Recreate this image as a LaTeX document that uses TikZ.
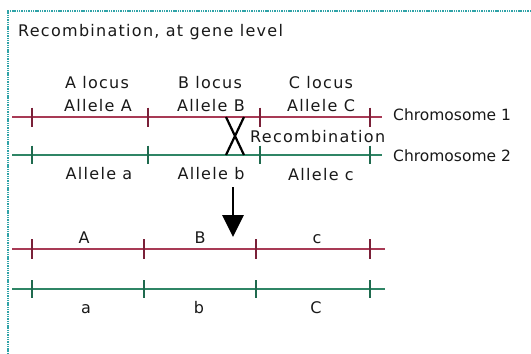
\documentclass[tikz,border=0pt]{standalone}
\usepackage{fontspec}
\setmainfont{DejaVu Sans}
\newfontfamily\lblfont[LetterSpace=8]{DejaVu Sans}
\newfontfamily\chrfont[LetterSpace=0]{DejaVu Sans}
\usetikzlibrary{arrows.meta}
\definecolor{redchr}{HTML}{A83A55}
\definecolor{redtick}{HTML}{7A2038}
\definecolor{greenchr}{HTML}{2F8565}
\definecolor{greentick}{HTML}{1F6A4E}
\definecolor{frame}{HTML}{2FA3A8}
\begin{document}
\begin{tikzpicture}[x=1pt,y=-1pt,
  lbl/.style={font=\lblfont\fontsize{16}{18}\selectfont,inner sep=0pt,anchor=base,text=black!90},
  chrlbl/.style={font=\chrfont\fontsize{15.5}{18}\selectfont,inner sep=0pt,anchor=base west,text=black!90},
  redline/.style={draw=redchr,line width=2pt},
  greenline/.style={draw=greenchr,line width=2pt},
  redtk/.style={draw=redtick,line width=1.8pt},
  greentk/.style={draw=greentick,line width=1.8pt},
  crossline/.style={draw=black,line width=2.2pt},
  framestyle/.style={draw=frame,line width=2.6pt,dash pattern=on 1.4pt off 0.9pt}]
\useasboundingbox (0,0) rectangle (531,354);
\fill[white] (0,0) rectangle (531,354);
% frame
\coordinate (fTL) at (8,11);
\coordinate (fTR) at (531,11);
\coordinate (fBL) at (8,354);
\draw[framestyle] (fTR) -- (fTL) -- (fBL);
% title
\node[lbl,anchor=base west] (title) at (18,36) {Recombination, at gene level};
% upper chromosomes
\coordinate (c1s) at (12,117); \coordinate (c1e) at (382,117);
\coordinate (c2s) at (12,155); \coordinate (c2e) at (382,155);
\draw[redline] (c1s) -- (c1e);
\draw[greenline] (c2s) -- (c2e);
\foreach \x [count=\i] in {32,148,260,370}{
  \coordinate (u1t\i) at (\x,117);
  \coordinate (u2t\i) at (\x,155);
  \draw[redtk] ([yshift=9.5pt]u1t\i) -- ([yshift=-9.5pt]u1t\i);
  \draw[greentk] ([yshift=9.5pt]u2t\i) -- ([yshift=-9pt]u2t\i);
}
% crossover
\coordinate (xa) at (226,117); \coordinate (xb) at (244,155);
\coordinate (xc) at (244,117); \coordinate (xd) at (226,155);
\draw[crossline] (xa) -- (xb);
\draw[crossline] (xc) -- (xd);
% upper labels
\node[lbl] (Aloc) at (97,88) {A locus};
\node[lbl] (AllA) at (98,111) {Allele A};
\node[lbl] (Bloc) at (210,88) {B locus};
\node[lbl] (AllB) at (211,111) {Allele B};
\node[lbl] (Cloc) at (321,88) {C locus};
\node[lbl] (AllC) at (321,111) {Allele C};
\node[lbl] (Alla) at (99,179) {Allele a};
\node[lbl] (Allb) at (211,179) {Allele b};
\node[lbl] (Allc) at (321,180) {Allele c};
\node[lbl,anchor=base west] (recomb) at (250,142) {Recombination};
\node[chrlbl] (chr1) at (393,120) {Chromosome 1};
\node[chrlbl] (chr2) at (393,161) {Chromosome 2};
% arrow
\coordinate (arrS) at (233,187); \coordinate (arrE) at (233,237);
\draw[line width=2.8pt,-{Triangle[width=21pt,length=22pt]}] (arrS) -- (arrE);
% lower chromosomes
\coordinate (l1s) at (12,249); \coordinate (l1e) at (385,249);
\coordinate (l2s) at (12,289); \coordinate (l2e) at (385,289);
\draw[redline] (l1s) -- (l1e);
\draw[greenline] (l2s) -- (l2e);
\foreach \x [count=\i] in {32,144,256,370}{
  \coordinate (d1t\i) at (\x,249);
  \coordinate (d2t\i) at (\x,289);
  \draw[redtk] ([yshift=10pt]d1t\i) -- ([yshift=-10pt]d1t\i);
  \draw[greentk] ([yshift=9pt]d2t\i) -- ([yshift=-9pt]d2t\i);
}
% lower labels
\node[lbl] (lA) at (84,243) {A};
\node[lbl] (lB) at (200,243) {B};
\node[lbl] (lc) at (317,243) {c};
\node[lbl] (la) at (86,313) {a};
\node[lbl] (lb) at (199,313) {b};
\node[lbl] (lC) at (316,313) {C};
\end{tikzpicture}
\end{document}
